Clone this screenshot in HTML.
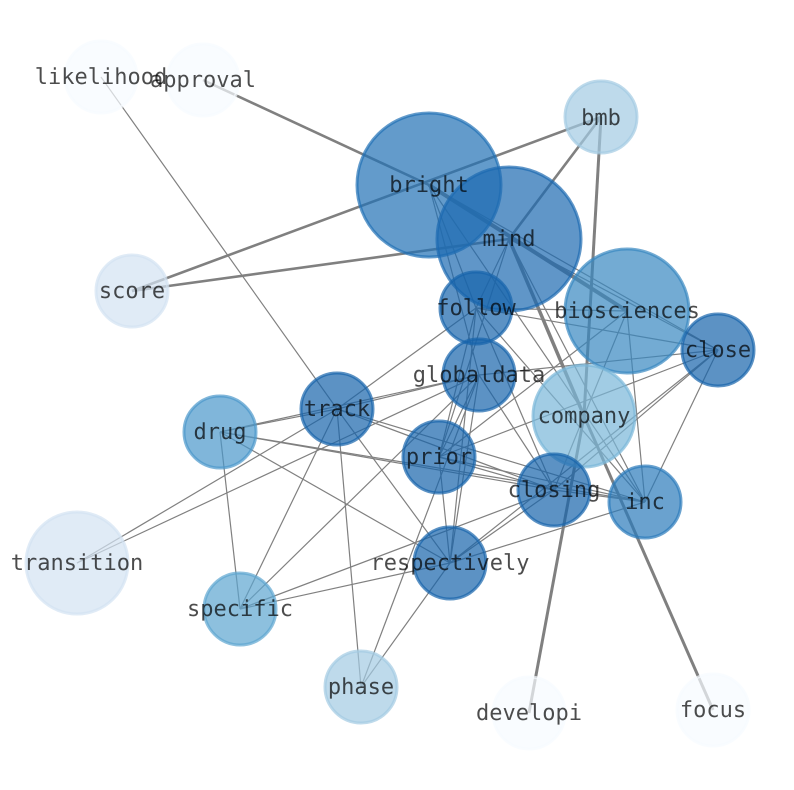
<!DOCTYPE html>
<html><head><meta charset="utf-8"><style>
html,body{margin:0;padding:0;background:#fff}
svg{display:block}
text{font-family:"DejaVu Sans Mono","Liberation Mono",monospace;font-size:22px;fill:#000;fill-opacity:.7;text-anchor:middle;text-rendering:geometricPrecision}
.t line{stroke:#808080;stroke-width:1.2;fill:none}
.k line{stroke:#808080;stroke-width:2.6;fill:none}
circle{stroke-width:3;fill-opacity:.7;stroke-opacity:.7}
</style></head><body>
<svg width="794" height="790" viewBox="0 0 794 790" xmlns="http://www.w3.org/2000/svg">
<g class="k">
<line x1="203" y1="80" x2="429" y2="185"/>
<line x1="601" y1="117" x2="132" y2="291"/>
<line x1="601" y1="117" x2="509" y2="239"/>
<line x1="601" y1="117" x2="584" y2="416" style="stroke-width:3"/>
<line x1="584" y1="416" x2="529" y2="713" style="stroke-width:3"/>
<line x1="132" y1="291" x2="509" y2="239"/>
<line x1="509" y1="239" x2="584" y2="416" style="stroke-width:3.5"/>
<line x1="584" y1="416" x2="713" y2="710" style="stroke-width:3"/>
<line x1="429" y1="185" x2="627" y2="311" style="stroke-width:4"/>
</g>
<g class="t">
<line x1="101" y1="77" x2="337" y2="409"/>
<line x1="429" y1="185" x2="476" y2="308"/>
<line x1="429" y1="185" x2="479" y2="375"/>
<line x1="429" y1="185" x2="718" y2="350"/>
<line x1="429" y1="185" x2="645" y2="502"/>
<line x1="509" y1="239" x2="476" y2="308"/>
<line x1="509" y1="239" x2="439" y2="457"/>
<line x1="509" y1="239" x2="718" y2="350"/>
<line x1="509" y1="239" x2="645" y2="502"/>
<line x1="476" y1="308" x2="627" y2="311"/>
<line x1="476" y1="308" x2="718" y2="350"/>
<line x1="476" y1="308" x2="337" y2="409"/>
<line x1="476" y1="308" x2="439" y2="457"/>
<line x1="476" y1="308" x2="450" y2="563"/>
<line x1="476" y1="308" x2="554" y2="490"/>
<line x1="476" y1="308" x2="645" y2="502"/>
<line x1="479" y1="375" x2="718" y2="350"/>
<line x1="479" y1="375" x2="337" y2="409"/>
<line x1="479" y1="375" x2="220" y2="432"/>
<line x1="479" y1="375" x2="77" y2="563"/>
<line x1="479" y1="375" x2="240" y2="609"/>
<line x1="479" y1="375" x2="361" y2="687"/>
<line x1="479" y1="375" x2="439" y2="457"/>
<line x1="479" y1="375" x2="450" y2="563"/>
<line x1="479" y1="375" x2="554" y2="490"/>
<line x1="627" y1="311" x2="439" y2="457"/>
<line x1="627" y1="311" x2="584" y2="416"/>
<line x1="584" y1="416" x2="554" y2="490"/>
<line x1="627" y1="311" x2="645" y2="502"/>
<line x1="718" y1="350" x2="439" y2="457"/>
<line x1="718" y1="350" x2="450" y2="563"/>
<line x1="718" y1="350" x2="554" y2="490"/>
<line x1="718" y1="350" x2="645" y2="502"/>
<line x1="337" y1="409" x2="220" y2="432"/>
<line x1="337" y1="409" x2="77" y2="563"/>
<line x1="337" y1="409" x2="240" y2="609"/>
<line x1="337" y1="409" x2="361" y2="687"/>
<line x1="337" y1="409" x2="450" y2="563"/>
<line x1="337" y1="409" x2="554" y2="490"/>
<line x1="337" y1="409" x2="645" y2="502"/>
<line x1="220" y1="432" x2="240" y2="609"/>
<line x1="220" y1="432" x2="450" y2="563"/>
<line x1="220" y1="432" x2="554" y2="490"/>
<line x1="220" y1="432" x2="645" y2="502"/>
<line x1="439" y1="457" x2="554" y2="490"/>
<line x1="439" y1="457" x2="645" y2="502"/>
<line x1="439" y1="457" x2="450" y2="563"/>
<line x1="554" y1="490" x2="450" y2="563"/>
<line x1="554" y1="490" x2="240" y2="609"/>
<line x1="554" y1="490" x2="645" y2="502"/>
<line x1="645" y1="502" x2="450" y2="563"/>
<line x1="450" y1="563" x2="240" y2="609"/>
<line x1="450" y1="563" x2="361" y2="687"/>
</g>
<g>
<circle cx="101" cy="77" r="36" fill="#f7fbff" stroke="#f7fbff"/>
<circle cx="203" cy="80" r="36" fill="#f7fbff" stroke="#f7fbff"/>
<circle cx="601" cy="117" r="36" fill="#a3cae2" stroke="#a3cae2"/>
<circle cx="429" cy="185" r="72" fill="#2171b5" stroke="#2171b5"/>
<circle cx="509" cy="239" r="72" fill="#1c6ab0" stroke="#1c6ab0"/>
<circle cx="132" cy="291" r="36" fill="#d3e3f2" stroke="#d3e3f2"/>
<circle cx="476" cy="308" r="36" fill="#1764ab" stroke="#1764ab"/>
<circle cx="627" cy="311" r="62" fill="#3787c0" stroke="#3787c0"/>
<circle cx="718" cy="350" r="36" fill="#1764ab" stroke="#1764ab"/>
<circle cx="479" cy="375" r="36" fill="#1764ab" stroke="#1764ab"/>
<circle cx="337" cy="409" r="36" fill="#1764ab" stroke="#1764ab"/>
<circle cx="584" cy="416" r="51" fill="#79b7d9" stroke="#79b7d9"/>
<circle cx="220" cy="432" r="36" fill="#4a97ca" stroke="#4a97ca"/>
<circle cx="439" cy="457" r="36" fill="#1764ab" stroke="#1764ab"/>
<circle cx="554" cy="490" r="36" fill="#1764ab" stroke="#1764ab"/>
<circle cx="645" cy="502" r="36" fill="#2b7bba" stroke="#2b7bba"/>
<circle cx="450" cy="563" r="36" fill="#1764ab" stroke="#1764ab"/>
<circle cx="77" cy="563" r="51" fill="#d3e3f2" stroke="#d3e3f2"/>
<circle cx="240" cy="609" r="36" fill="#5ca5d0" stroke="#5ca5d0"/>
<circle cx="361" cy="687" r="36" fill="#a3cae2" stroke="#a3cae2"/>
<circle cx="529" cy="713" r="36" fill="#f7fbff" stroke="#f7fbff"/>
<circle cx="713" cy="710" r="36" fill="#f7fbff" stroke="#f7fbff"/>
</g>
<g>
<text x="101" y="84">likelihood</text>
<text x="203" y="87">approval</text>
<text x="601" y="125">bmb</text>
<text x="429" y="192">bright</text>
<text x="509" y="246">mind</text>
<text x="132" y="298">score</text>
<text x="476" y="315">follow</text>
<text x="627" y="318">biosciences</text>
<text x="718" y="357">close</text>
<text x="479" y="382">globaldata</text>
<text x="337" y="416">track</text>
<text x="584" y="423">company</text>
<text x="220" y="439">drug</text>
<text x="439" y="464">prior</text>
<text x="554" y="497">closing</text>
<text x="645" y="509">inc</text>
<text x="450" y="570">respectively</text>
<text x="77" y="570">transition</text>
<text x="240" y="616">specific</text>
<text x="361" y="694">phase</text>
<text x="529" y="720">developi</text>
<text x="713" y="717">focus</text>
</g>
</svg>
</body></html>
